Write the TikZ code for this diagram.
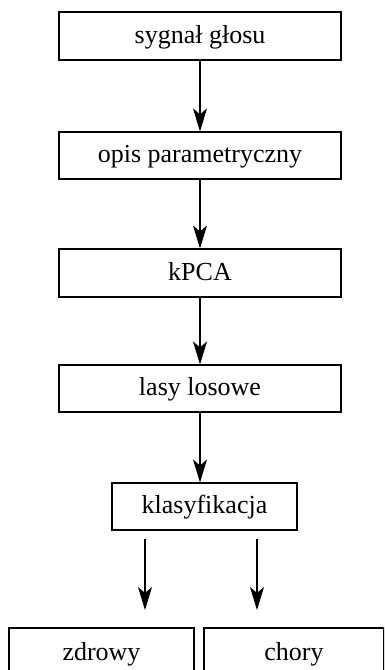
\documentclass[tikz,border=0pt]{standalone}
\usepackage{fontspec}
\setmainfont{Liberation Serif}
\usetikzlibrary{arrows.meta}
\begin{document}
\begin{tikzpicture}[x=1pt,y=-1pt,
  box/.style={draw, line width=1.1pt, inner sep=0pt, text height=18.7pt, text depth=4.7pt,
    font=\fontsize{26}{30}\selectfont},
  arr/.style={line width=1.1pt, -{Stealth[length=23pt,width=14pt,inset=6pt]}}]
\useasboundingbox (0,0) rectangle (384,670);
\clip (0,0) rectangle (384,670);
\node[box, minimum width=282pt, minimum height=48pt] (sig) at (200,36) {sygnał głosu};
\node[box, minimum width=282pt, minimum height=47pt] (opis) at (200,155.5) {opis parametryczny};
\node[box, minimum width=282pt, minimum height=48pt] (kpca) at (200,273) {kPCA};
\node[box, minimum width=282pt, minimum height=47pt] (lasy) at (200,388.5) {lasy losowe};
\node[box, minimum width=185pt, minimum height=47pt] (klas) at (204.5,506.5) {klasyfikacja};
\node[box, minimum width=185pt, minimum height=50pt] (zdr) at (101.5,653) {zdrowy};
\node[box, minimum width=180pt, minimum height=50pt] (cho) at (294,653) {chory};
\coordinate (a1) at (145,539);
\coordinate (a2) at (145,610);
\coordinate (b1) at (257,539);
\coordinate (b2) at (257,610);
\draw[arr] (sig.south -| opis.north) -- (opis.north);
\draw[arr] (opis) -- (kpca);
\draw[arr] (kpca) -- (lasy);
\draw[arr] (lasy.south) -- (lasy.south |- klas.north);
\draw[arr] (a1) -- (a2);
\draw[arr] (b1) -- (b2);
\end{tikzpicture}
\end{document}
